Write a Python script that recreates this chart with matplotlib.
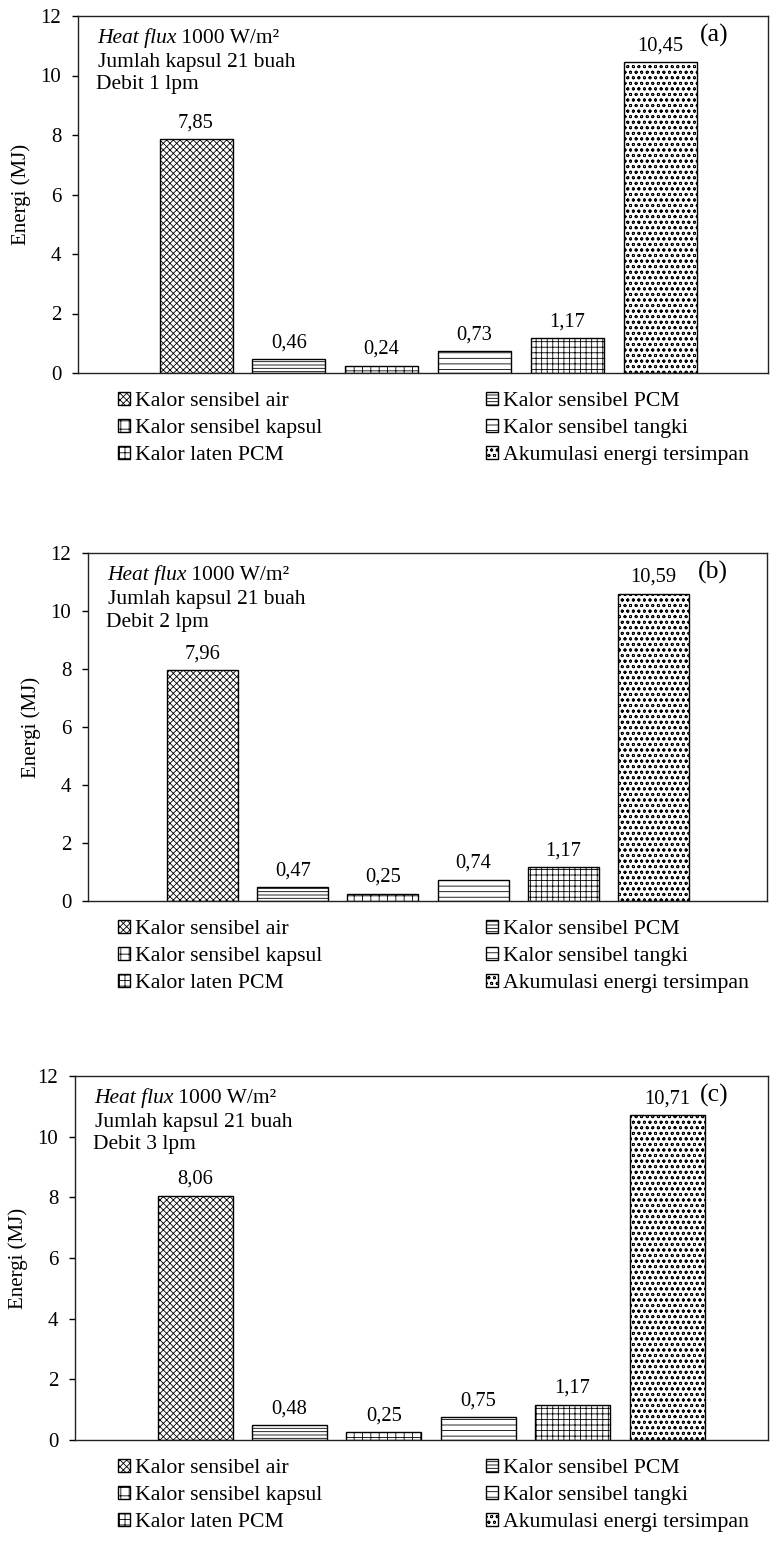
import numpy as np
import matplotlib
matplotlib.use("Agg")
import matplotlib.pyplot as plt

# =========================
# 0. 基本设置
# =========================
plt.rcParams["font.family"] = ["Liberation Serif", "DejaVu Serif"]
plt.rcParams["hatch.linewidth"] = 0.6

# =========================
# 1. 数据
# =========================
kategori = [
    "Kalor sensibel air",
    "Kalor sensibel PCM",
    "Kalor sensibel kapsul",
    "Kalor sensibel tangki",
    "Kalor laten PCM",
    "Akumulasi energi tersimpan",
]

energi_a = [7.85, 0.46, 0.24, 0.73, 1.17, 10.45]
energi_b = [7.96, 0.47, 0.25, 0.74, 1.17, 10.59]
energi_c = [8.06, 0.48, 0.25, 0.75, 1.17, 10.71]

panel_tag = ["(a)", "(b)", "(c)"]
debit_txt = ["Debit 1 lpm", "Debit 2 lpm", "Debit 3 lpm"]

y_ticks = [0, 2, 4, 6, 8, 10, 12]

# pola arsir untuk tiap seri
hatches = ["xxxxx", "-----", "++", "---", "+++", "ooo"]

# =========================
# 2. Geometri (piksel)
# =========================
W, H = 770, 1542
# left, top, bottom, right, pusat bar pertama, jarak antar bar, lebar bar
geom = [
    dict(L=78, T=16, B=373, R=768, c0=196, s=92.8, w=73),
    dict(L=88, T=553, B=901, R=767, c0=202.5, s=90.2, w=71),
    dict(L=75, T=1076, B=1440, R=768, c0=195, s=94.4, w=75),
]

fig = plt.figure(figsize=(W / 100, H / 100), dpi=100)

semua = [energi_a, energi_b, energi_c]
px = 0.72  # piksel -> point

for k, (vals, g) in enumerate(zip(semua, geom)):
    ax = fig.add_axes([
        g["L"] / W,
        1 - g["B"] / H,
        (g["R"] - g["L"]) / W,
        (g["B"] - g["T"]) / H,
    ])

    x = np.arange(len(vals))
    bars = []
    for i, v in enumerate(vals):
        b = ax.bar(
            x[i], v,
            width=g["w"] / g["s"],
            color="white",
            edgecolor="black",
            linewidth=1.0,
            hatch=hatches[i],
            label=kategori[i],
        )
        bars.append(b[0])
        ax.annotate(
            f"{v:.2f}".replace(".", ","),
            xy=(x[i], v),
            xytext=(0, 5),
            textcoords="offset points",
            ha="center",
            va="bottom",
            fontsize=14.8,
        )

    ax.set_xlim((g["L"] - g["c0"]) / g["s"], (g["R"] - g["c0"]) / g["s"])
    ax.set_ylim(0, 12)
    ax.set_yticks(y_ticks)
    ax.set_xticks([])
    ax.tick_params(axis="y", direction="out", length=4, width=1,
                   labelsize=15, pad=8)
    for sp in ax.spines.values():
        sp.set_linewidth(1.0)
        sp.set_color("#222222")

    ax.set_ylabel("Energi (MJ)", fontsize=15, labelpad=7)

    # keterangan kondisi
    t1 = ax.annotate(
        "Heat flux", xy=(0, 1), xycoords="axes fraction",
        xytext=(19 * px, -22 * px), textcoords="offset points",
        ha="left", va="center", fontsize=15.5, style="italic",
    )
    ax.annotate(
        " 1000 W/m²", xy=(1, 0), xycoords=t1,
        ha="left", va="bottom", fontsize=15.5,
    )
    ax.annotate(
        "Jumlah kapsul 21 buah", xy=(0, 1), xycoords="axes fraction",
        xytext=(20 * px, -46 * px), textcoords="offset points",
        ha="left", va="center", fontsize=15.5,
    )
    ax.annotate(
        debit_txt[k], xy=(0, 1), xycoords="axes fraction",
        xytext=(18 * px, -69 * px), textcoords="offset points",
        ha="left", va="center", fontsize=15.5,
    )
    ax.annotate(
        panel_tag[k], xy=(1, 1), xycoords="axes fraction",
        xytext=(-54 * px, -19 * px), textcoords="offset points",
        ha="center", va="center", fontsize=18.5,
    )

    # legenda dua kolom
    kol1 = [0, 2, 4]
    kol2 = [1, 3, 5]
    y_leg = 1 - (g["B"] + 19) / H
    for cols, xl in [(kol1, 118), (kol2, 486)]:
        fig.legend(
            [bars[i] for i in cols],
            [kategori[i] for i in cols],
            loc="upper left",
            bbox_to_anchor=(xl / W, y_leg),
            frameon=False,
            fontsize=15.7,
            handlelength=0.55,
            handleheight=0.55,
            handletextpad=0.25,
            labelspacing=0.35,
            borderpad=0,
            borderaxespad=0,
        )

fig.savefig("out.png", dpi=100)
